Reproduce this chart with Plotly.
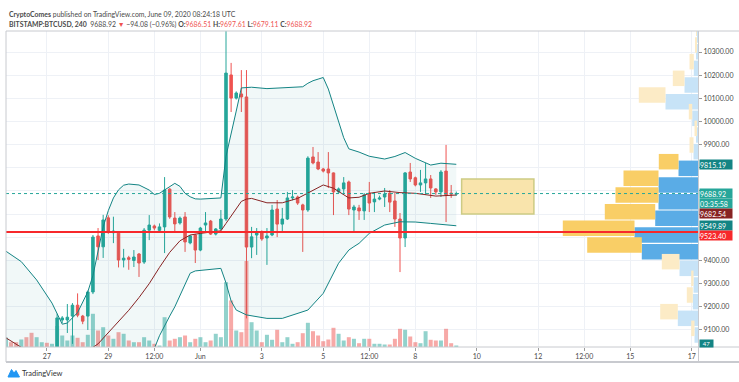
import plotly.graph_objects as go
import pandas as pd

# ---------------- data ----------------
start_time = "2020-05-25 16:00"   # first 4h candle (partly cut at left edge)

opens = [8840, 8875, 8850, 8830, 8862, 8818, 8772, 8822, 8852, 8838,
         8872, 9143, 9143, 9160, 9207, 9160, 9160, 9264, 9506, 9459,
         9584, 9520, 9518, 9402, 9412, 9400, 9428, 9393, 9531, 9549,
         9530, 9545, 9708, 9583, 9562, 9588, 9476, 9510, 9445, 9553,
         9570, 9514, 9536, 9579, 10201, 10101, 10119, 10106, 9458, 9510,
         9523, 9497, 9510, 9622, 9557, 9579, 9670, 9674, 9640, 9618,
         9847, 9825, 9795, 9795, 9778, 9696, 9709, 9739, 9618, 9627,
         9614, 9691, 9653, 9665, 9674, 9691, 9657, 9579, 9497, 9782,
         9757, 9726, 9735, 9752, 9709, 9696, 9786, 9691, 9686.51]
highs = [8905, 8890, 8862, 8872, 8870, 8825, 8832, 8860, 8866, 8880,
         9170, 9160, 9212, 9216, 9258, 9165, 9270, 9510, 9540, 9597,
         9595, 9589, 9525, 9450, 9420, 9445, 9432, 9540, 9596, 9555,
         9560, 9760, 9712, 9609, 9590, 9609, 9510, 9515, 9545, 9609,
         9575, 9540, 9618, 10430, 10253, 10130, 10222, 10222, 9545, 9540,
         9530, 9540, 9640, 9661, 9627, 9696, 9704, 9680, 9645, 9850,
         9890, 9868, 9800, 9868, 9780, 9715, 9760, 9745, 9640, 9640,
         9691, 9739, 9696, 9680, 9713, 9704, 9691, 9605, 9782, 9821,
         9762, 9791, 9821, 9769, 9712, 9790, 9899, 9726, 9697.61]
lows = [8820, 8845, 8815, 8822, 8810, 8760, 8765, 8815, 8830, 8832,
        8865, 9130, 9087, 9040, 9155, 9125, 9100, 9255, 9402, 9411,
        9515, 9475, 9370, 9370, 9360, 9372, 9329, 9385, 9488, 9530,
        9520, 9432, 9580, 9519, 9555, 9437, 9470, 9389, 9440, 9519,
        9510, 9508, 9530, 9570, 10041, 10095, 10041, 9150, 9410, 9424,
        9485, 9381, 9505, 9501, 9519, 9575, 9660, 9640, 9437, 9610,
        9815, 9790, 9780, 9713, 9596, 9690, 9691, 9596, 9523, 9575,
        9575, 9609, 9609, 9660, 9631, 9609, 9545, 9350, 9458, 9739,
        9720, 9696, 9683, 9670, 9683, 9674, 9566, 9670, 9679.11]
closes = [8875, 8850, 8830, 8862, 8818, 8772, 8822, 8852, 8838, 8872,
          9152, 9152, 9155, 9207, 9164, 9138, 9264, 9501, 9459, 9575,
          9523, 9527, 9402, 9410, 9405, 9415, 9389, 9531, 9553, 9540,
          9545, 9704, 9588, 9558, 9583, 9480, 9506, 9445, 9540, 9562,
          9514, 9536, 9579, 10209, 10101, 10123, 10106, 9458, 9502, 9519,
          9493, 9506, 9618, 9557, 9579, 9670, 9674, 9648, 9618, 9842,
          9821, 9795, 9786, 9778, 9696, 9709, 9735, 9622, 9631, 9614,
          9683, 9648, 9665, 9670, 9687, 9652, 9579, 9497, 9778, 9752,
          9726, 9735, 9752, 9713, 9696, 9782, 9683, 9687, 9688.92]
volumes = [9.5, 4.8, 4.8, 7.5, 9.8, 14.2, 9.8, 4.8, 4.2, 3.2,
           21, 11.5, 6.5, 11.5, 9.2, 4.8, 12.2, 33.2, 16.5, 19.8,
           11.5, 8.2, 14.8, 13.2, 6.5, 4.8, 4.8, 9.8, 6.5, 3.2,
           1.5, 29.8, 6.5, 8.2, 9.8, 11.5, 4.8, 8.2, 9.8, 4.8,
           6.5, 13.2, 9.8, 64.8, 46.5, 16.5, 14.8, 86, 24.8, 16.5,
           4.8, 12.2, 7.2, 17.2, 4.8, 9.8, 3.2, 4.8, 13.8, 24.2,
           15.8, 11.5, 5.8, 7.5, 19.2, 13.2, 6.5, 9.8, 8.2, 3.8,
           8.2, 8.2, 3.2, 3.2, 2.5, 2.5, 8.2, 18.2, 17.2, 10.5,
           4.8, 3.8, 15.8, 7.2, 6.5, 6.5, 18.2, 3.8, 1.5]

# Bollinger bands (candle number, price)
bb_upper_n = [0, 3, 6, 9, 11, 12, 14, 16, 17, 18, 19, 20, 21, 22, 23, 24, 26, 28, 29, 30,
              33, 34, 35, 36, 37, 38, 42, 43, 44, 45, 46, 47, 48, 51, 54, 58, 59, 60, 61,
              62, 63, 64, 65, 66, 67, 69, 71, 74, 76, 78, 80, 83, 85, 88]
bb_upper = [9440, 9395, 9316, 9216, 9125, 9130, 9175, 9265, 9335, 9440, 9545, 9615, 9670,
            9705, 9725, 9730, 9726, 9704, 9685, 9690, 9733, 9720, 9690, 9675, 9666, 9665,
            9670, 9850, 9955, 10045, 10145, 10148, 10148, 10142, 10145, 10150, 10165,
            10176, 10183, 10190, 10140, 10070, 10005, 9930, 9882, 9868, 9850, 9838, 9849,
            9866, 9841, 9812, 9820, 9815.19]
bb_basis_n = [0, 3, 6, 10, 14, 16, 18, 21, 24, 26, 28, 30, 32, 34, 36, 38, 41, 42, 43, 44,
              45, 46, 47, 48, 51, 54, 57, 59, 62, 64, 67, 69, 71, 74, 77, 80, 84, 88]
bb_basis = [9066, 9025, 8990, 8965, 8990, 9010, 9040, 9114, 9185, 9240, 9300, 9370, 9435,
            9485, 9510, 9517, 9524, 9528, 9560, 9590, 9620, 9655, 9665, 9668, 9649, 9649,
            9668, 9690, 9726, 9712, 9670, 9673, 9690, 9700, 9693, 9690, 9678, 9682.54]
bb_lower_n = [0, 13, 20, 26, 28, 29, 30, 31, 32, 33, 34, 35, 36, 37, 42, 43, 44, 45, 47,
              51, 54, 59, 62, 65, 67, 68, 69, 71, 74, 77, 80, 83, 86, 88]
bb_lower = [8700, 8600, 8650, 8850, 8975, 9020, 9075, 9120, 9160, 9200, 9250, 9300, 9345,
            9355, 9366, 9303, 9225, 9186, 9165, 9150, 9150, 9186, 9258, 9388, 9445, 9460,
            9474, 9517, 9553, 9567, 9566, 9560, 9553, 9549.89]

# Volume profile (visible range): row lower bound, up volume, down volume
vp_row_low = [9056.7, 9128.7, 9200.6, 9272.6, 9344.5, 9416.5, 9488.4, 9560.4, 9632.3,
              9704.3, 9776.2, 9848.2, 9920.1, 9992.1, 10064.0, 10136.0, 10207.9,
              10279.9, 10351.8]
vp_up = [3.5, 20.2, 5.2, 4.5, 18.5, 56.2, 63.5, 42.8, 39.5, 39.5, 19.5, 4.5, 1.8, 5.8,
         32.5, 13.5, 4.2, 1.2, 1.0]
vp_down = [3.3, 17.6, 6.0, 2.3, 17.7, 54.6, 71.7, 50.4, 43.0, 35.0, 19.7, 4.0, 1.7, 3.4,
           26.7, 11.7, 4.3, 1.3, 0.5]
vp_value_area = [False, False, False, False, False, True, True, True, True, True, True,
                 False, False, False, False, False, False, False, False]
vp_row_height = 71.95

# drawings
support_level = 9523.40
last_price = 9688.92
box_t0, box_t1 = "2020-06-09 12:10", "2020-06-11 20:40"
box_p0, box_p1 = 9601, 9752

# axis ticks
x_tickvals = ["2020-05-27", "2020-05-29", "2020-05-30 12:00", "2020-06-01", "2020-06-03",
              "2020-06-05", "2020-06-06 12:00", "2020-06-08", "2020-06-10", "2020-06-12",
              "2020-06-13 12:00", "2020-06-15", "2020-06-17"]
x_ticktext = ["27", "29", "12:00", "Jun", "3", "5", "12:00", "8", "10", "12", "12:00", "15", "17"]
y_tickvals = list(range(9100, 10400, 100))
y_ticktext = ["" if 9500 <= v <= 9800 else f"{v:.2f}" for v in y_tickvals]

# right-axis price labels: text, price, background, vertical shift (px)
axis_labels = [("9815.19", 9815.19, "#138484", 0),
               ("9688.92", 9688.92, "#26A69A", 0),
               ("03:35:58", 9688.92, "#26A69A", -10),
               ("9682.54", 9682.54, "#872323", -18),
               ("9549.89", 9549.89, "#138484", 0),
               ("9523.40", 9523.40, "#F7282B", -4)]

# ---------------- figure ----------------
FONT = "Lato"
GREEN, RED = "#26A69A", "#EF5350"
times = pd.date_range(start_time, periods=len(opens), freq="4h")

PL, PR, PT, PB = 6, 698, 31, 347
PW, PH = PR - PL, PB - PT
def fx(x): return (x - PL) / PW
def fy(y): return (PB - y) / PH

fig = go.Figure()

# volume (main hidden y axis, drawn below candles)
vol_colors = ["rgba(38,166,154,0.5)" if c >= o else "rgba(239,83,80,0.5)"
              for o, c in zip(opens, closes)]
fig.add_trace(go.Bar(x=times, y=volumes, marker=dict(color=vol_colors, line=dict(width=0)),
                     width=4 * 3600 * 1000 * 0.78, xaxis="x", yaxis="y"))

# candles
fig.add_trace(go.Candlestick(x=times, open=opens, high=highs, low=lows, close=closes,
                             increasing=dict(line=dict(color=GREEN, width=1), fillcolor=GREEN),
                             decreasing=dict(line=dict(color=RED, width=1), fillcolor=RED),
                             whiskerwidth=0, xaxis="x", yaxis="y2"))

# Bollinger bands
fig.add_trace(go.Scatter(x=times[bb_upper_n], y=bb_upper, mode="lines",
                         line=dict(color="#138484", width=1), xaxis="x", yaxis="y2"))
fig.add_trace(go.Scatter(x=times[bb_lower_n], y=bb_lower, mode="lines",
                         line=dict(color="#138484", width=1), fill="tonexty",
                         fillcolor="rgba(25,135,135,0.06)", xaxis="x", yaxis="y2"))
fig.add_trace(go.Scatter(x=times[bb_basis_n], y=bb_basis, mode="lines",
                         line=dict(color="#872323", width=1), xaxis="x", yaxis="y2"))

# volume profile
centers = [lo + vp_row_height / 2 for lo in vp_row_low]
up_cols = ["#5AACE6" if va else "#C7E3F7" for va in vp_value_area]
dn_cols = ["#F9CE66" if va else "#FCEBC6" for va in vp_value_area]
fig.add_trace(go.Bar(y=centers, x=vp_up, orientation="h", width=vp_row_height * 0.93,
                     marker=dict(color=up_cols, line=dict(width=0)), xaxis="x2", yaxis="y2"))
fig.add_trace(go.Bar(y=centers, x=vp_down, base=vp_up, orientation="h",
                     width=vp_row_height * 0.93,
                     marker=dict(color=dn_cols, line=dict(width=0)), xaxis="x2", yaxis="y2"))

shapes = []
# yellow box
shapes.append(dict(type="rect", xref="x", yref="y2", x0=box_t0, x1=box_t1, y0=box_p0, y1=box_p1,
                   fillcolor="#F9E4AC", line=dict(color="#CDCB84", width=1.5), layer="above"))
# last price dotted line
shapes.append(dict(type="line", xref="paper", yref="y2", x0=0, x1=1, y0=last_price, y1=last_price,
                   line=dict(color=GREEN, width=1, dash="dot"), layer="above"))
# support line
shapes.append(dict(type="line", xref="paper", yref="y2", x0=0, x1=1, y0=support_level,
                   y1=support_level, line=dict(color="#F7282B", width=2), layer="above"))
# frame
fc = "#C8CACF"
for (x0, y0, x1, y1, w) in [(6, 31, 739, 31, 1), (6, 31, 6, 362, 1), (6, 362, 739, 362, 2),
                            (6, 347, 739, 347, 1), (698.5, 31, 698.5, 362, 1)]:
    shapes.append(dict(type="line", xref="paper", yref="paper", x0=fx(x0), x1=fx(x1),
                       y0=fy(y0), y1=fy(y1), line=dict(color=fc, width=w), layer="above"))
# TradingView logo mark
logo = [(8, 377), (11.5, 369.5), (14, 373), (16, 370.5), (19.5, 377)]
path = "M " + " L ".join(f"{fx(a):.5f},{fy(b):.5f}" for a, b in logo) + " Z"
shapes.append(dict(type="path", xref="paper", yref="paper", path=path,
                   fillcolor="#2196F3", line=dict(color="#2196F3", width=1)))

annotations = []
for text, price, bg, shift in axis_labels:
    annotations.append(dict(xref="paper", yref="y2", x=1, y=price, xanchor="left", yanchor="middle",
                            xshift=1, yshift=shift, text=text, showarrow=False, bgcolor=bg,
                            width=32, height=9, borderpad=0, align="left",
                            font=dict(family=FONT, size=7, color="white")))
annotations.append(dict(xref="paper", yref="paper", x=fx(699), y=fy(343.5), xanchor="left",
                        yanchor="middle", text="47", showarrow=False, bgcolor="#138484",
                        width=13, height=7, borderpad=0, font=dict(family=FONT, size=6, color="white")))

hdr_col = "#4A4A4A"
annotations.append(dict(xref="paper", yref="paper", x=fx(6.5), y=fy(15), xanchor="left",
                        yanchor="middle", showarrow=False,
                        text="<b>CryptoComes</b> published on TradingView.com, June 09, 2020 08:24:18 UTC",
                        font=dict(family=FONT, size=6.9, color=hdr_col)))
r = "#EF5350"
line2 = ("<b>BITSTAMP:BTCUSD, 240</b>  9688.92 "
         f"<span style='color:{r}'>▼</span> −94.08 (−0.96%) "
         f"<b>O:</b><span style='color:{r}'>9686.51</span> "
         f"<b>H:</b><span style='color:{r}'>9697.61</span> "
         f"<b>L:</b><span style='color:{r}'>9679.11</span> "
         f"<b>C:</b><span style='color:{r}'>9688.92</span>")
annotations.append(dict(xref="paper", yref="paper", x=fx(6.5), y=fy(24.5), xanchor="left",
                        yanchor="middle", showarrow=False, text=line2,
                        font=dict(family=FONT, size=6.9, color=hdr_col)))
annotations.append(dict(xref="paper", yref="paper", x=fx(20), y=fy(373.5), xanchor="left",
                        yanchor="middle", showarrow=False, text="TradingView",
                        font=dict(family=FONT, size=7.5, color="#333333")))

grid = "#EEF1F6"
fig.update_layout(
    width=739, height=382,
    margin=dict(l=PL, r=739 - PR, t=PT, b=382 - PB),
    paper_bgcolor="white", plot_bgcolor="white",
    showlegend=False, hovermode=False,
    font=dict(family=FONT, size=7, color="#4A4A4A"),
    xaxis=dict(type="date", range=["2020-05-25 16:03", "2020-06-17 04:55"],
               tickvals=x_tickvals, ticktext=x_ticktext, showgrid=True, gridcolor=grid,
               gridwidth=1, zeroline=False, showline=False, ticks="outside", ticklen=3,
               tickcolor="#9A9A9A", tickfont=dict(family=FONT, size=7, color="#4A4A4A"),
               rangeslider=dict(visible=False), fixedrange=True, automargin=False),
    xaxis2=dict(overlaying="x", range=[PW, 0], visible=False, fixedrange=True),
    yaxis=dict(range=[0, PH], visible=False, fixedrange=True),
    yaxis2=dict(overlaying="y", side="right", anchor="x", range=[9026.5, 10390.7],
                tickvals=y_tickvals, ticktext=y_ticktext, showgrid=True, gridcolor=grid,
                zeroline=False, showline=False, ticks="outside", ticklen=3, tickcolor="#9A9A9A",
                tickfont=dict(family=FONT, size=7, color="#4A4A4A"), fixedrange=True,
                automargin=False),
    shapes=shapes, annotations=annotations,
)

fig.write_html("out.html", config={"displayModeBar": False},
               post_script="document.body.style.margin='0px';document.body.style.overflow='hidden';")
